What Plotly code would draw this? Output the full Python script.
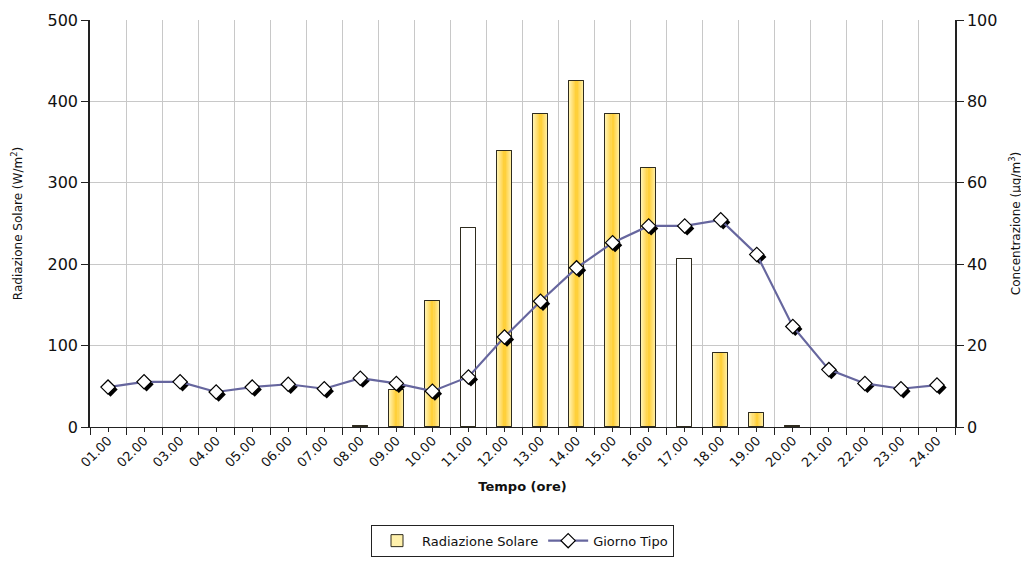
import plotly.graph_objects as go

hours = ["01.00", "02.00", "03.00", "04.00", "05.00", "06.00", "07.00", "08.00",
         "09.00", "10.00", "11.00", "12.00", "13.00", "14.00", "15.00", "16.00",
         "17.00", "18.00", "19.00", "20.00", "21.00", "22.00", "23.00", "24.00"]
radiazione = [0, 0, 0, 0, 0, 0, 0, 1.5, 45, 155, 244, 339, 384, 425, 384, 318,
              206, 91, 17, 1.5, 0, 0, 0, 0]
giorno_tipo = [9.8, 11.1, 11.1, 8.6, 9.8, 10.5, 9.4, 12.0, 10.7, 8.8, 12.3, 22.1,
               30.9, 39.1, 45.3, 49.4, 49.4, 50.9, 42.4, 24.7, 14.1, 10.7, 9.4, 10.3]
hollow_hours = ["11.00", "17.00"]
y_left_ticks = [0, 100, 200, 300, 400, 500]
y_right_ticks = [0, 20, 40, 60, 80, 100]

FONT = "DejaVu Sans"
idx = list(range(len(hours)))
bar_y = [v if v > 0 else None for v in radiazione]

# bar gradient layers: (width, colour)
layers = [(0.42, "#FFF1AC"), (0.36, "#FFEC9A"), (0.30, "#FFE688"),
          (0.24, "#FFE076"), (0.18, "#FFDB64"), (0.12, "#FFD650"),
          (0.06, "#FFD03A")]
OUTLINE = "#2E2B1E"
LINE_C = "#66669E"

fig = go.Figure()
for i, (w, c) in enumerate(layers):
    colors = ["#FFFFFF" if h in hollow_hours else c for h in hours]
    fig.add_trace(go.Bar(
        x=hours, y=bar_y, width=w, name="Radiazione Solare",
        marker=dict(color=colors,
                    line=dict(color=OUTLINE, width=1 if i == 0 else 0)),
        showlegend=(i == 0), xaxis="x", yaxis="y", hoverinfo="skip"))
# outline on top
fig.add_trace(go.Bar(
    x=hours, y=bar_y, width=layers[0][0], name="Radiazione Solare",
    marker=dict(color="rgba(0,0,0,0)", line=dict(color=OUTLINE, width=1)),
    showlegend=False, xaxis="x", yaxis="y"))

# marker shadow (drawn first, on shifted hidden axes)
fig.add_trace(go.Scatter(
    x=idx, y=giorno_tipo, mode="markers",
    marker=dict(symbol="diamond", size=11, color="black", line=dict(width=0)),
    showlegend=False, xaxis="x2", yaxis="y2", hoverinfo="skip"))
# line + markers
fig.add_trace(go.Scatter(
    x=idx, y=giorno_tipo, mode="lines+markers", name="Giorno Tipo",
    line=dict(color=LINE_C, width=2.2),
    marker=dict(symbol="diamond", size=11, color="white",
                line=dict(color="black", width=1.2)),
    xaxis="x3", yaxis="y3"))

dx = 2.5 / (865 / 24)
dy = 2.5 / (407 / 100)

fig.update_layout(
    width=1029, height=577,
    margin=dict(l=82, r=82, t=12, b=158),
    paper_bgcolor="white", plot_bgcolor="white",
    font=dict(family=FONT, size=14, color="#111111"),
    barmode="overlay", bargap=0,
    xaxis=dict(type="category", categoryorder="array", categoryarray=hours,
               range=[-0.5, 23.5], tickson="boundaries", ticks="outside",
               ticklen=7, tickcolor="#222222", showgrid=True,
               gridcolor="#C8C8C8", gridwidth=1, showline=True,
               linecolor="#222222", linewidth=1, tickangle=-45,
               tickfont=dict(size=13), automargin=False,
               title=dict(text="<b>Tempo (ore)</b>", font=dict(size=13),
                          standoff=12),
               zeroline=False),
    xaxis2=dict(overlaying="x", range=[-0.5 - dx, 23.5 - dx], visible=False,
                anchor="y", automargin=False),
    xaxis3=dict(overlaying="x", range=[-0.5, 23.5], tickvals=idx,
                ticks="outside", ticklen=4, tickcolor="#222222",
                showticklabels=False, showgrid=False, zeroline=False,
                anchor="y", automargin=False),
    yaxis=dict(range=[0, 500], tickvals=y_left_ticks, ticks="outside",
               ticklen=7, tickcolor="#222222", showline=True,
               linecolor="#222222", linewidth=1.5, showgrid=True,
               gridcolor="#C8C8C8", gridwidth=1.3, zeroline=False,
               tickfont=dict(size=16), automargin=False,
               title=dict(text="Radiazione Solare (W/m<sup>2</sup>)",
                          font=dict(size=12), standoff=22)),
    yaxis2=dict(overlaying="y", range=[0 + dy, 100 + dy], visible=False,
                anchor="x", automargin=False),
    yaxis3=dict(overlaying="y", side="right", range=[0, 100],
                tickvals=y_right_ticks, ticks="outside", ticklen=7,
                tickcolor="#222222", showline=True, linecolor="#222222",
                linewidth=1.5, showgrid=False, zeroline=False,
                tickfont=dict(size=16), anchor="x", automargin=False,
                title=dict(text="Concentrazione (µg/m<sup>3</sup>)",
                           font=dict(size=12), standoff=15)),
    legend=dict(orientation="h", x=0.5, xanchor="center", y=-0.24,
                yanchor="top", bordercolor="#222222", borderwidth=1,
                font=dict(size=13), tracegroupgap=0, itemwidth=40),
)

fig.write_html("out.html")
